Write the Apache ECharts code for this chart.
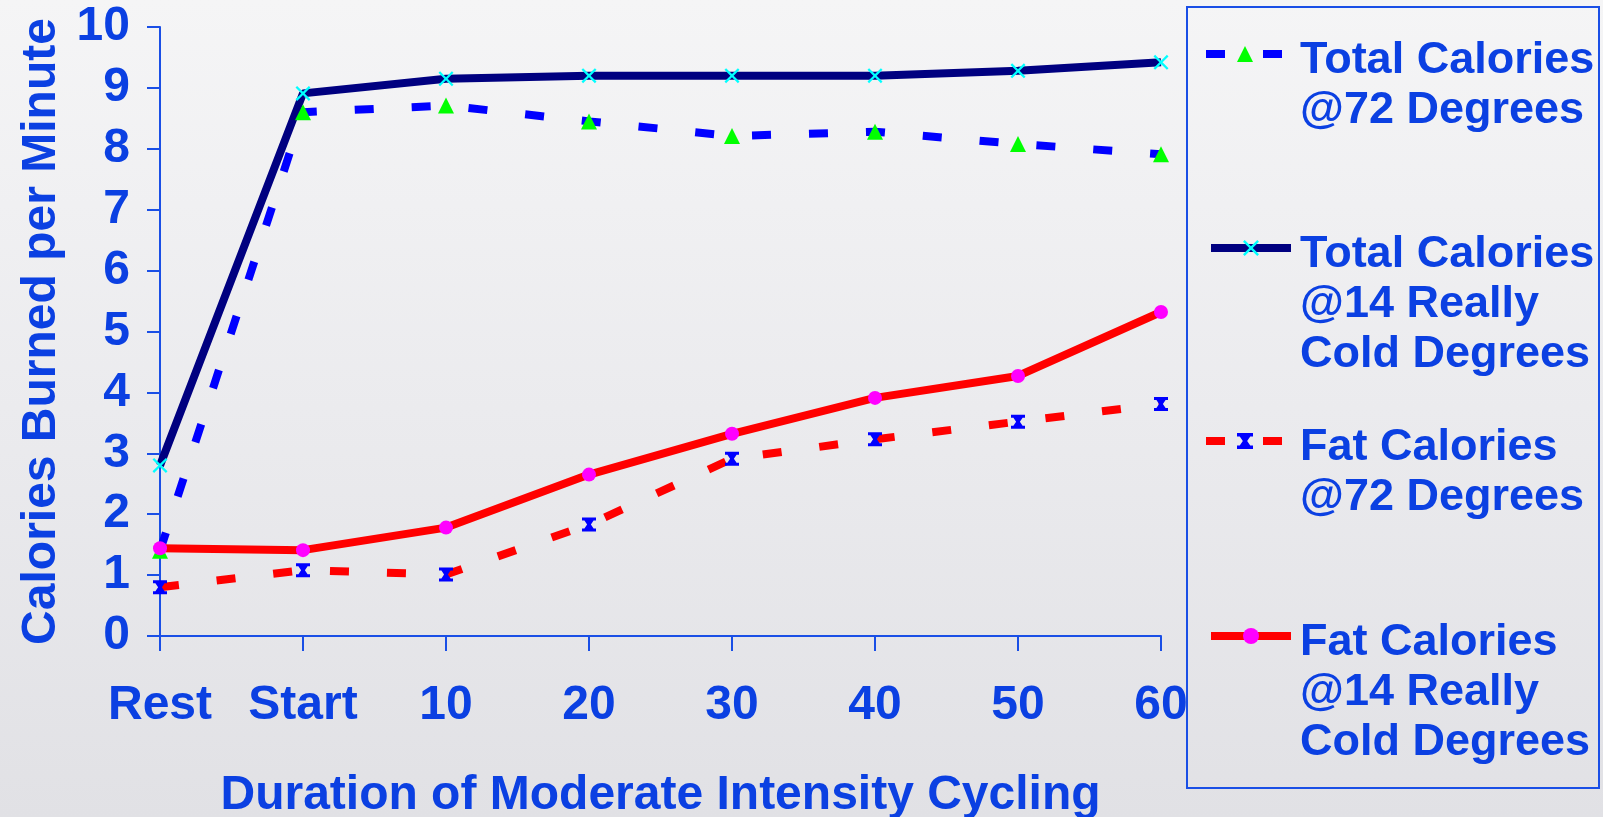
<!DOCTYPE html>
<html>
<head>
<meta charset="utf-8">
<title>Calories Burned per Minute</title>
<script src="https://cdn.jsdelivr.net/npm/echarts@6/dist/echarts.min.js"></script>
<style>
  html, body { margin: 0; padding: 0; width: 1603px; height: 817px; overflow: hidden; }
  body { background: linear-gradient(180deg, #f5f5f6 0%, #ebebee 50%, #e1e1e5 100%); }
  #chart { width: 1603px; height: 817px; }
</style>
</head>
<body>
<div id="chart"></div>
<script>
// Cycling duration categories (minutes)
const categories = ['Rest', 'Start', '10', '20', '30', '40', '50', '60'];

// Calories burned per minute
const totalAt72 = [1.40, 8.60, 8.71, 8.45, 8.21, 8.28, 8.08, 7.91];
const totalAt14 = [2.80, 8.91, 9.15, 9.20, 9.20, 9.20, 9.28, 9.42];
const fatAt72   = [0.80, 1.08, 1.01, 1.83, 2.91, 3.23, 3.52, 3.81];
const fatAt14   = [1.44, 1.41, 1.78, 2.65, 3.32, 3.91, 4.27, 5.32];

const seriesNames = [
  'Total Calories\n@72 Degrees',
  'Total Calories\n@14 Really\nCold Degrees',
  'Fat Calories\n@72 Degrees',
  'Fat Calories\n@14 Really\nCold Degrees'
];

const yAxisName = 'Calories Burned per Minute';
const xAxisName = 'Duration of Moderate Intensity Cycling';

const BLUE_TEXT = '#0b40e2';
const AXIS_BLUE = '#1a4fe6';
const FONT = 'Arial, "Liberation Sans", sans-serif';

// Marker shapes: thin cross, and a bold cross capped top and bottom
const crossPath = 'path://M0,1.5L1.5,0L7,5.5L12.5,0L14,1.5L8.5,7L14,12.5L12.5,14L7,8.5L1.5,14L0,12.5L5.5,7Z';
const starMarker = 'path://M0,0L14,0L14,3L11.6,3L8.9,7L11.6,11L14,11L14,14L0,14L0,11L2.4,11L5.1,7L2.4,3L0,3Z' +
  'M3.2,3L5.6,3L7,5L8.4,3L10.8,3L8.3,7L10.8,11L8.4,11L7,9L5.6,11L3.2,11L5.7,7Z';

const DASH = [19, 38];
const LEGEND_LINE_H = 50;
const LEGEND_DROP = 6.5;   // first text line sits a little below the icon's centre

const chart = echarts.init(document.getElementById('chart'), null, { renderer: 'canvas' });

// One legend block per series; the icon sits level with the first line of its name.
// The name is centred on the icon, so spacer lines are put in front of it.
function legendFor(name, left, iconCenterY, itemWidth, padLeft) {
  const lines = name.split('\n');
  const n = lines.length;
  const spacerH = LEGEND_LINE_H + (2 * LEGEND_DROP) / (n - 1);
  const totalH = (n - 1) * spacerH + n * LEGEND_LINE_H;
  const textStyle = {
    color: BLUE_TEXT,
    fontFamily: FONT,
    fontWeight: 'bold',
    fontSize: 45,
    lineHeight: LEGEND_LINE_H
  };
  return {
    data: [name],
    orient: 'vertical',
    left: left,
    top: iconCenterY - totalH / 2,
    padding: 0,
    itemWidth: itemWidth,
    itemHeight: 20,
    selectedMode: false,
    lineStyle: { width: 8 },
    formatter: function () {
      return '{s|\u00a0}\n'.repeat(n - 1) + lines.map(function (l) { return '{t|' + l + '}'; }).join('\n');
    },
    textStyle: Object.assign({}, textStyle, {
      padding: [0, 0, 0, padLeft],
      rich: {
        s: Object.assign({}, textStyle, { lineHeight: spacerH }),
        t: Object.assign({}, textStyle)
      }
    })
  };
}

const option = {
  animation: false,
  backgroundColor: 'transparent',
  grid: { left: 160, right: 442, top: 27, bottom: 181, containLabel: false, outerBoundsMode: 'none' },
  graphic: [{
    type: 'rect',
    shape: { x: 1187, y: 7, width: 412, height: 781 },
    style: { fill: 'none', stroke: AXIS_BLUE, lineWidth: 2 },
    silent: true,
    z: 0
  }],
  legend: [
    legendFor(seriesNames[0], 1202, 54, 78, 11),
    legendFor(seriesNames[1], 1207, 248, 80, 4),
    legendFor(seriesNames[2], 1202, 441, 78, 11),
    legendFor(seriesNames[3], 1207, 636, 80, 4)
  ],
  xAxis: {
    type: 'category',
    data: categories,
    boundaryGap: false,
    name: xAxisName,
    nameLocation: 'middle',
    nameGap: 136,
    nameTextStyle: { color: BLUE_TEXT, fontFamily: FONT, fontWeight: 'bold', fontSize: 48 },
    axisLine: { lineStyle: { color: AXIS_BLUE, width: 2 } },
    axisTick: { show: true, alignWithLabel: true, length: 15, lineStyle: { color: AXIS_BLUE, width: 2 } },
    axisLabel: { color: BLUE_TEXT, fontFamily: FONT, fontWeight: 'bold', fontSize: 48, margin: 46, interval: 0 },
    splitLine: { show: false }
  },
  yAxis: {
    type: 'value',
    min: 0,
    max: 10,
    interval: 1,
    name: yAxisName,
    nameLocation: 'middle',
    nameRotate: 90,
    nameGap: 90,
    nameTextStyle: { color: BLUE_TEXT, fontFamily: FONT, fontWeight: 'bold', fontSize: 48 },
    axisLine: { show: true, lineStyle: { color: AXIS_BLUE, width: 2 } },
    axisTick: { show: true, length: 13, lineStyle: { color: AXIS_BLUE, width: 2 } },
    axisLabel: { color: BLUE_TEXT, fontFamily: FONT, fontWeight: 'bold', fontSize: 48, margin: 30 },
    splitLine: { show: false }
  },
  series: [
    {
      name: seriesNames[0],
      type: 'line',
      data: totalAt72,
      symbol: 'triangle',
      symbolSize: 16,
      lineStyle: { color: '#0000ff', width: 8, type: DASH },
      itemStyle: { color: '#00ff00' }
    },
    {
      name: seriesNames[1],
      type: 'line',
      data: totalAt14,
      symbol: crossPath,
      symbolSize: 15,
      lineStyle: { color: '#000080', width: 8, type: 'solid' },
      itemStyle: { color: '#00ffff' }
    },
    {
      name: seriesNames[2],
      type: 'line',
      data: fatAt72,
      symbol: starMarker,
      symbolSize: 14,
      lineStyle: { color: '#ff0000', width: 8, type: DASH },
      itemStyle: { color: '#0000ff' }
    },
    {
      name: seriesNames[3],
      type: 'line',
      data: fatAt14,
      symbol: 'circle',
      symbolSize: 14,
      lineStyle: { color: '#ff0000', width: 8, type: 'solid' },
      itemStyle: { color: '#ff00ff' }
    }
  ]
};

chart.setOption(option);
</script>
</body>
</html>
